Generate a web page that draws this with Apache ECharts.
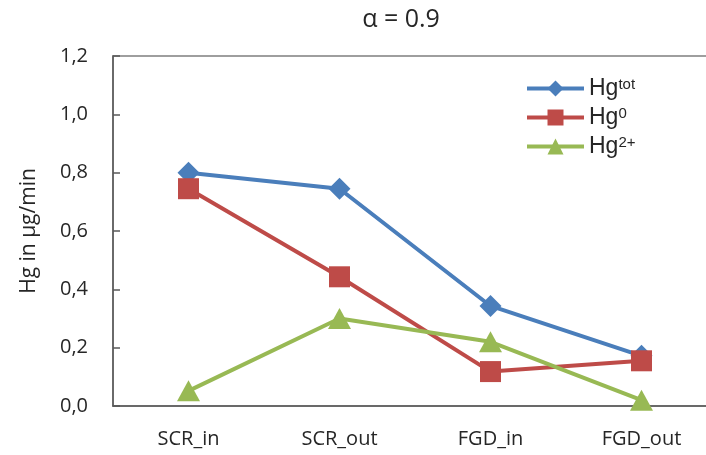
<!DOCTYPE html>
<html>
<head>
<meta charset="utf-8">
<script src="https://cdn.jsdelivr.net/npm/echarts@6/dist/echarts.min.js"></script>
<style>
  html, body { margin: 0; padding: 0; background: #fff; }
  #chart { width: 706px; height: 455px; }
</style>
</head>
<body>
<div id="chart"></div>
<script>
var categories = ['SCR_in', 'SCR_out', 'FGD_in', 'FGD_out'];
var hgTot = [0.80, 0.745, 0.343, 0.172];
var hg0 = [0.745, 0.443, 0.118, 0.155];
var hg2 = [0.052, 0.300, 0.220, 0.020];

// legend names -> base + superscript
var supers = { 'Hgtot': 'tot', 'Hg0': '0', 'Hg2+': '2+' };

var myChart = echarts.init(document.getElementById('chart'));
var option = {
    animation: false,
    title: {
        text: 'α = 0.9',
        left: 396,
        top: 2,
        textAlign: 'center',
        textStyle: {
            fontFamily: 'Open Sans',
            fontSize: 25,
            fontWeight: 'normal',
            color: '#262626'
        }
    },
    legend: {
        orient: 'vertical',
        left: 520,
        top: 72,
        itemWidth: 57,
        itemHeight: 20,
        itemGap: 6,
        lineStyle: { width: 4 },
        formatter: function (name) {
            return '{b|Hg}{s|' + supers[name] + '}';
        },
        textStyle: {
            rich: {
                b: { fontFamily: 'Liberation Sans', fontSize: 23, lineHeight: 22, color: '#262626' },
                s: { fontFamily: 'Liberation Sans', fontSize: 15, lineHeight: 14, color: '#262626', padding: [0, 0, 8, 0] }
            }
        },
        data: ['Hgtot', 'Hg0', 'Hg2+']
    },
    grid: {
        left: 113,
        top: 56,
        width: 604,
        bottom: 49,
        outerBoundsMode: 'none',
        show: true,
        borderColor: '#7f7f7f',
        borderWidth: 1.5
    },
    xAxis: {
        type: 'category',
        data: categories,
        boundaryGap: true,
        axisTick: { show: false },
        axisLine: { lineStyle: { color: '#595959', width: 1.5 } },
        axisLabel: {
            fontFamily: 'Open Sans',
            fontSize: 20,
            color: '#262626',
            margin: 23
        }
    },
    yAxis: {
        type: 'value',
        min: 0,
        max: 1.2,
        interval: 0.2,
        name: 'Hg in µg/min',
        nameLocation: 'middle',
        nameGap: 73,
        nameTextStyle: {
            fontFamily: 'Open Sans',
            fontSize: 21,
            color: '#262626'
        },
        splitLine: { show: false },
        axisLine: { show: true, lineStyle: { color: '#595959', width: 1.5 } },
        axisTick: { show: true, inside: true, length: 7, lineStyle: { color: '#595959', width: 1.5 } },
        axisLabel: {
            fontFamily: 'Open Sans',
            fontSize: 20,
            color: '#262626',
            margin: 25,
            formatter: function (v) {
                return v.toFixed(1).replace('.', ',');
            }
        }
    },
    series: [{
        name: 'Hgtot',
        type: 'line',
        data: hgTot,
        symbol: 'diamond',
        symbolSize: [22, 22],
        lineStyle: { width: 4, color: '#4a7ebb' },
        itemStyle: { color: '#4a7ebb' },
        z: 3
    }, {
        name: 'Hg0',
        type: 'line',
        data: hg0,
        symbol: 'rect',
        symbolSize: 21,
        lineStyle: { width: 4, color: '#be4b48' },
        itemStyle: { color: '#be4b48' },
        z: 4
    }, {
        name: 'Hg2+',
        type: 'line',
        data: hg2,
        symbol: 'triangle',
        symbolSize: [23, 21],
        lineStyle: { width: 4, color: '#98b954' },
        itemStyle: { color: '#98b954' },
        z: 5
    }]
};
myChart.setOption(option);
</script>
</body>
</html>
